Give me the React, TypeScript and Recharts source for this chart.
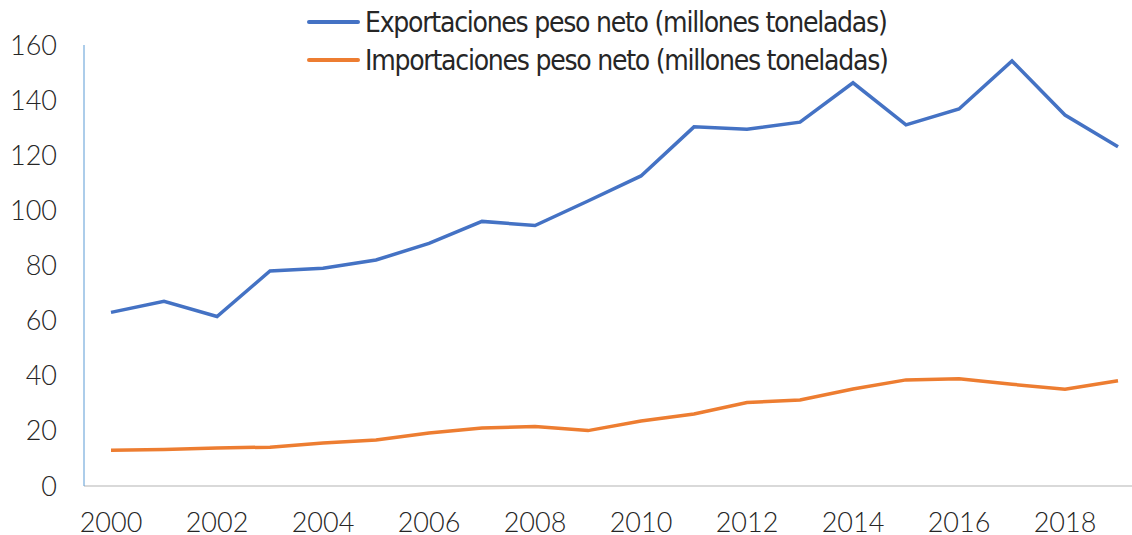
import React from 'react';
import { LineChart, Line, XAxis, YAxis } from 'recharts';

const years = ['2000','2001','2002','2003','2004','2005','2006','2007','2008','2009','2010','2011','2012','2013','2014','2015','2016','2017','2018','2019'];
const exportsValues = [63, 67, 61.5, 78, 79, 82, 88, 96, 94.5, 103.4, 112.5, 130.3, 129.4, 132, 146.3, 131, 136.8, 154.2, 134.6, 123.1];
const importsValues = [13, 13.2, 13.8, 14.1, 15.6, 16.7, 19.2, 21, 21.6, 20.1, 23.6, 26.1, 30.3, 31.2, 35.2, 38.5, 38.9, 36.9, 35.1, 38.2];
const yTicks = [0, 20, 40, 60, 80, 100, 120, 140, 160];
const exportName = 'Exportaciones peso neto (millones toneladas)';
const importName = 'Importaciones peso neto (millones toneladas)';
const exportColor = '#4472C4';
const importColor = '#ED7D31';

const data = years.map((y, i) => ({ year: y, exp: exportsValues[i], imp: importsValues[i] }));
const legendItems = [
  { name: exportName, color: exportColor },
  { name: importName, color: importColor },
];

const tickFont = { fontFamily: 'Lato, sans-serif', fontSize: 27, fontWeight: 300, fill: '#262626' };

export default function App() {
  return (
    <div style={{ position: 'fixed', left: 0, top: 0, width: 1132, height: 535, overflow: 'hidden', background: '#fff' }}>
      <LineChart width={1150} height={535} data={data} margin={{ top: 45, right: 6, left: 0, bottom: 0 }}>
        <XAxis dataKey="year" interval={1} height={49} tickLine={false} tickSize={0} tickMargin={27}
          padding={{ left: 27, right: 26 }}
          axisLine={{ stroke: '#D9D9D9', strokeWidth: 2 }} tick={tickFont} />
        <YAxis domain={[0, 160]} ticks={yTicks} width={84} tickLine={false} tickSize={0} tickMargin={27}
          axisLine={{ stroke: '#5B9BD5', strokeWidth: 1 }} tick={tickFont} />
        <Line type="linear" dataKey="exp" name={exportName} stroke={exportColor} strokeWidth={3.5} dot={false} isAnimationActive={false} />
        <Line type="linear" dataKey="imp" name={importName} stroke={importColor} strokeWidth={3.5} dot={false} isAnimationActive={false} />
      </LineChart>
      <div style={{ position: 'absolute', top: 3, left: 307 }}>
        {legendItems.map((p) => (
          <div key={p.name} style={{ display: 'flex', alignItems: 'center', height: 38 }}>
            <div style={{ width: 53, height: 4, borderRadius: 2, background: p.color }} />
            <span style={{ marginLeft: 5, fontFamily: '"Liberation Sans Narrow", "DejaVu Sans Condensed", sans-serif', fontSize: 28, letterSpacing: -1.25, color: '#262626', whiteSpace: 'nowrap' }}>{p.name}</span>
          </div>
        ))}
      </div>
    </div>
  );
}
